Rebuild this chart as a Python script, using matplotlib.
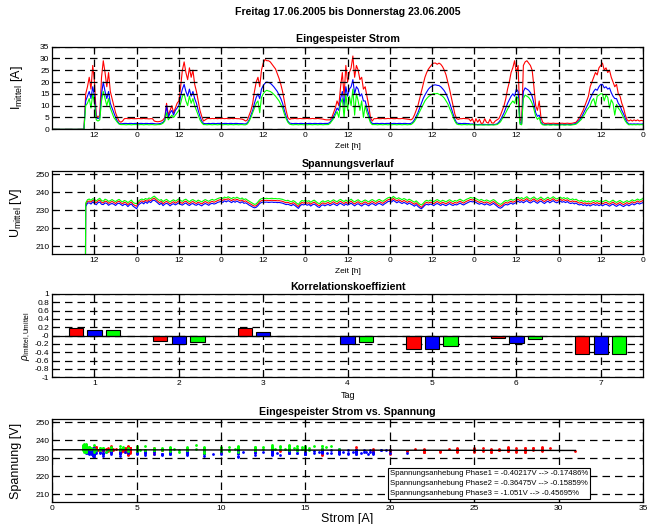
import numpy as np
import matplotlib
matplotlib.use("Agg")
import matplotlib.pyplot as plt

plt.rcParams['font.family'] = ['Liberation Sans', 'DejaVu Sans']
plt.rcParams['mathtext.fontset'] = 'custom'
plt.rcParams['mathtext.rm'] = 'Liberation Sans'
plt.rcParams['mathtext.it'] = 'Liberation Sans:italic'

# Messzeit in Stunden ab Freitag 0 Uhr (30-min Mittelwerte)
zeit = np.arange(0, 168.5, 0.5)

# Strom Phase 1 (rot), 2 (blau), 3 (gruen) in A
strom_L1 = [
    0, 0, 0, 0, 0, 0, 0, 0, 0, 0, 0, 0, 0, 0, 0, 0, 0, 0, 0,
    15, 18, 22, 17, 27, 20, 6, 5, 6, 22, 29, 24, 18, 24, 16, 13, 10, 7, 5, 3.5, 3, 3.5, 4.5, 4.6, 4.5, 4.5, 4.6, 4.5, 4.5,
    4.5, 4.6, 4.5, 4.5, 4.6, 4.5, 4.5, 4.4, 4.5, 4.5, 3.5, 3.3, 3.2, 3.3, 3.5, 4, 5,
    11, 6, 8, 10, 7, 9, 11, 12, 18, 25, 28.5, 24, 21, 26, 22, 25, 19, 16, 12, 8, 5.5, 3.5, 4, 4.5,
    4.6, 4.5, 4.6, 4.5, 4.6, 4.5, 4.6,
    4.5, 4.6, 4.5, 4.6, 4.5, 4.5, 4.6, 4.5, 4.6, 4.5, 4.5, 4.4, 4.3, 4.0,
    3.5, 4, 6, 8, 11, 16, 20, 22, 18, 25, 28, 29.5, 29, 29, 28.5, 27.5, 26.5, 25.5, 23.5, 21.5, 19, 16, 12, 8, 5, 4.2,
    4.5, 4.5, 4.6, 4.5, 4.5, 4.6, 4.5, 4.5,
    4.5, 4.6, 4.5, 4.5, 4.6, 4.5, 4.5, 4.6, 4.5, 4.4, 4.3, 4.1, 4.0, 4.0,
    4, 5, 7, 9, 12, 10, 18, 24, 14, 27, 20, 24, 26, 31, 22, 27, 25, 21, 22, 17, 18, 14, 10, 5, 3.5, 4.5,
    4.5, 4.6, 4.5, 4.5, 4.6, 4.5, 4.5, 4.6,
    4.5, 4.6, 4.5, 4.5, 4.6, 4.5, 4.5, 4.6, 4.5, 4.4, 4.3, 4.2,
    4, 4.5, 6, 8, 10, 13, 16, 19, 22, 24, 25.5, 26.5, 27.5, 28, 28, 27.5, 28, 27.5, 26.5, 25, 23, 20, 17, 13.5, 10, 6.5, 4.5, 4.2,
    4.5, 4.5, 4.6, 4.5, 4.5, 4.4, 3.5, 4.5,
    2.5, 4.5, 3, 4.2, 2.5, 2.6, 4.5, 3, 2.6, 4.3, 2.7, 2.6, 3.5, 4,
    4.5, 6, 8, 10, 13, 17, 20, 24, 26, 29, 24, 27, 5, 2.5, 27, 28.5, 29, 28, 27, 25, 18, 10, 8, 12, 5, 3,
    2.5, 2.5, 2.6, 2.5, 2.5, 2.6, 2.5, 2.5,
    2.5, 2.5, 2.6, 2.5, 2.5, 2.6, 2.5, 2.5, 2.6, 2.8,
    3, 4, 5, 6.5, 8, 10, 12, 14, 18, 20, 22, 24, 23, 26, 27, 28, 25, 26, 24, 25, 22, 20, 18, 19, 15, 14, 11, 9, 6, 4,
    3.5, 4, 3.5, 4, 3.6, 4, 3.5, 3.8, 3.6]
strom_L2 = [
    0, 0, 0, 0, 0, 0, 0, 0, 0, 0, 0, 0, 0, 0, 0, 0, 0, 0, 0,
    12, 14, 16, 13, 18, 14, 5, 4.5, 5, 15, 20, 16, 13, 16, 11, 9, 7, 5, 3.5, 2.5, 2.3, 2.4, 2.5, 2.5, 2.4, 2.5, 2.5, 2.4, 2.5,
    2.5, 2.4, 2.5, 2.5, 2.4, 2.5, 2.5, 2.4, 2.5, 2.5, 2.4, 2.3, 2.3, 2.4, 2.6, 3, 4,
    10, 5, 7, 8, 6, 8, 9, 10, 14, 17, 19, 16, 14, 17, 14, 16, 13, 11, 8, 5.5, 3.5, 2.5, 2.4, 2.4,
    2.5, 2.4, 2.5, 2.5, 2.4, 2.5, 2.5,
    2.5, 2.4, 2.5, 2.5, 2.4, 2.5, 2.5, 2.4, 2.5, 2.5, 2.4, 2.4, 2.4, 2.3,
    2.3, 2.8, 4, 6, 8, 11, 13.5, 15, 13, 17, 18.5, 19.5, 20, 19.8, 19.5, 18.8, 18, 17, 16, 14.5, 13, 11, 8, 5.5, 3.5, 2.6,
    2.5, 2.4, 2.5, 2.5, 2.4, 2.5, 2.5, 2.4,
    2.5, 2.4, 2.5, 2.5, 2.4, 2.5, 2.5, 2.4, 2.5, 2.5, 2.4, 2.5, 2.5, 2.5,
    3, 4, 5.5, 7, 9, 8, 13, 16, 10, 18, 14, 17, 18, 21, 15, 18, 17, 14, 15, 12, 12, 9, 6.5, 3.5, 2.5, 2.4,
    2.5, 2.5, 2.4, 2.5, 2.5, 2.4, 2.5, 2.5,
    2.5, 2.4, 2.5, 2.5, 2.4, 2.5, 2.5, 2.4, 2.5, 2.5, 2.4, 2.4,
    2.5, 3, 4, 5.5, 7, 9, 11, 13, 14.5, 15.8, 17, 17.8, 18.3, 18.7, 18.8, 18.6, 18.5, 18, 17.2, 16.3, 15, 13.3, 11.3, 9, 6.5, 4.3, 2.8, 2.5,
    2.5, 2.4, 2.5, 2.5, 2.4, 2.4, 2.2, 2.3,
    2.0, 2.1, 2.0, 2.1, 2.0, 2.0, 2.1, 2.0, 2.0, 2.1, 2.0, 2.0, 2.1, 2.3,
    3, 4, 5.5, 7, 9, 11, 12.5, 14, 15, 14, 17, 16, 3, 2.2, 16, 17.5, 17, 16.5, 15.5, 14, 11, 7, 5.5, 6, 3, 2.2,
    2.0, 2.0, 2.1, 2.0, 2.0, 2.1, 2.0, 2.0,
    2.0, 2.0, 2.1, 2.0, 2.0, 2.1, 2.0, 2.0, 2.1, 2.3,
    2.5, 3.2, 4, 5, 6.5, 8, 9.5, 11, 13, 14.5, 16, 17, 16.5, 18, 19, 19, 17.5, 18, 17, 17.5, 15.5, 14, 13, 13, 11, 10, 8, 6.5, 4.5, 3,
    2.2, 2.3, 2.2, 2.3, 2.2, 2.3, 2.2, 2.2, 2.3]
strom_L3 = [
    0, 0, 0, 0, 0, 0, 0, 0, 0, 0, 0, 0, 0, 0, 0, 0, 0, 0, 0,
    10, 11, 13, 9, 15, 11, 4, 3.5, 4, 12, 16, 13, 10, 13, 9, 7, 5, 4, 3, 2.2, 2.0, 2.0, 2.0, 1.9, 2.0, 2.0, 1.9, 2.0, 2.0,
    2.0, 1.9, 2.0, 2.0, 1.9, 2.0, 2.0, 1.9, 2.0, 2.0, 1.9, 1.9, 2.0, 2.0, 2.2, 2.6, 3.5,
    7, 4, 5, 6, 5, 6, 7, 8, 11, 14, 15, 12, 10, 14, 11, 13, 10, 8, 6, 4, 2.8, 2.0, 2.0, 1.9,
    2.0, 2.0, 1.9, 2.0, 2.0, 1.9, 2.0,
    2.0, 1.9, 2.0, 2.0, 1.9, 2.0, 2.0, 1.9, 2.0, 2.0, 1.9, 2.0, 2.0, 1.9,
    1.9, 2.3, 3.5, 5, 7, 9, 11, 12, 7, 13.5, 15, 16, 16.5, 16.2, 16, 15.5, 14.8, 14, 13, 12, 10.5, 9, 6.5, 4.5, 3, 2.2,
    2.0, 1.9, 2.0, 2.0, 1.9, 2.0, 2.0, 1.9,
    2.0, 1.9, 2.0, 2.0, 1.9, 2.0, 2.0, 1.9, 2.0, 2.0, 1.9, 2.0, 2.0, 2.0,
    2.5, 3.5, 4.5, 6, 7.5, 5, 11, 13, 5, 15, 8, 14, 10, 17, 6, 15, 12, 8, 12, 5, 10, 7, 5, 2.8, 2.0, 2.0,
    2.0, 1.9, 2.0, 2.0, 1.9, 2.0, 2.0, 1.9,
    2.0, 1.9, 2.0, 2.0, 1.9, 2.0, 2.0, 1.9, 2.0, 2.0, 1.9, 2.0,
    2.0, 2.5, 3.3, 4.5, 6, 7.5, 9, 10.5, 12, 13, 13.8, 14.3, 14.8, 15.2, 15, 15.2, 14.8, 14.5, 14, 13.2, 12, 10.8, 9, 7.2, 5.2, 3.5, 2.3, 2.0,
    2.0, 1.9, 2.0, 2.0, 1.9, 2.0, 1.9, 2.0,
    1.8, 1.9, 1.8, 1.8, 1.9, 1.8, 1.8, 1.9, 1.8, 1.8, 1.9, 1.8, 1.9, 2.0,
    2.5, 3.2, 4.5, 5.5, 7, 8.5, 10, 11, 12, 11, 14, 13, 2.2, 1.9, 13, 14.5, 14, 13.5, 12.5, 11, 8.5, 5.5, 4.2, 5, 2.5, 1.9,
    1.8, 1.8, 1.9, 1.8, 1.8, 1.9, 1.8, 1.8,
    1.8, 1.8, 1.9, 1.8, 1.8, 1.9, 1.8, 1.8, 1.9, 2.0,
    2.2, 2.8, 3.5, 4.2, 5.5, 6.5, 8, 9, 10, 12, 13, 10, 14, 14.5, 15, 15, 12, 14.5, 13.5, 9, 12.5, 11, 6, 10.5, 9, 8, 6.5, 5, 3.5, 2.5,
    1.9, 2.0, 1.9, 2.0, 1.9, 2.0, 1.9, 2.0, 1.9]

# Spannung Phase 1-3 in V
spannung_L1 = [
    0, 0, 0, 0, 0, 0, 0, 0, 0, 0, 0, 0, 0, 0, 0, 0, 0, 0, 0,
    233.0, 234.8, 235.1, 234.5, 235.5, 234.8, 234.2, 235.1, 235.6, 234.4, 234.0, 235.0, 234.8, 233.8, 234.4,
    234.8, 234.3, 233.7, 234.6, 235.0, 234.1, 233.6, 234.4, 234.0, 233.1, 233.9, 234.5, 233.2, 232.6,
    232.2, 234.0, 234.8, 235.2, 234.6, 235.5, 234.9, 235.8, 235.3, 236.2, 236.7, 235.8, 235.0, 234.2, 234.9, 233.6,
    234.4, 234.9, 234.2, 233.5, 234.2, 234.7, 233.9, 234.5, 235.2, 234.3, 233.8, 234.6, 235.0, 234.2, 233.6, 234.4,
    234.8, 234.1, 233.7, 234.5, 234.0, 233.5, 234.2, 234.8, 234.3, 233.8, 234.5, 234.9, 234.4, 234.8, 235.3, 235.7,
    235.9, 235.4, 236.2, 235.7, 236.4, 235.8, 235.3, 236.0, 235.5, 236.1, 235.6, 235.1, 235.7, 234.8, 235.2, 234.5,
    233.9, 233.3, 232.7, 232.2, 232.5, 233.5, 234.7, 235.3, 235.5, 235.4, 235.5, 235.3, 235.4, 235.5, 235.3, 235.4,
    235.2, 235.3, 235.1, 234.9, 234.5, 234.1, 234.4, 233.9, 233.5, 234.2, 233.7, 232.8, 232.0, 233.4, 234.3, 233.9,
    234.4, 233.8, 234.2, 233.3, 234.0, 234.5, 233.7, 232.9, 232.5, 233.6, 234.1, 233.4, 233.9, 234.3, 233.5, 234.1,
    234.7, 234.0, 233.6, 234.4, 234.9, 234.2, 233.7, 234.5, 233.8, 234.3, 235.0, 234.1, 233.5, 234.2, 234.7, 233.9,
    233.4, 234.1, 234.6, 234.0, 233.5, 234.3, 234.8, 234.2, 233.7, 234.4, 234.9, 234.3, 233.8, 234.5, 235.2, 235.8,
    236.1, 235.5, 236.6, 235.8, 235.2, 235.8, 235.3, 234.7, 235.4, 234.9, 234.3, 235.0, 234.5, 233.9, 233.3, 234.1,
    233.2, 232.3, 231.5, 232.7, 233.8, 234.4, 233.9, 234.5, 234.1, 233.6, 234.3, 234.8, 234.2, 233.7, 234.4, 234.0,
    233.5, 234.2, 234.7, 234.1, 233.6, 234.3, 233.9, 234.5, 235.0, 234.4, 233.9, 234.6, 235.1, 235.5, 236.0, 235.6,
    235.9, 235.3, 234.8, 234.3, 234.9, 234.4, 234.0, 234.6, 234.2, 233.7, 234.3, 234.8, 234.1, 233.2, 232.5, 232.1,
    232.8, 233.7, 234.3, 233.9, 234.5, 235.0, 234.4, 234.8, 235.4, 236.1, 235.3, 235.9, 235.2, 235.8, 236.4, 235.5,
    235.0, 235.7, 236.3, 235.4, 234.9, 235.6, 236.2, 235.3, 234.8, 235.5, 236.1, 235.2, 235.7, 236.4, 235.6, 235.1,
    235.7, 236.2, 235.4, 235.9, 235.3, 235.8, 235.1, 234.7, 235.2, 234.6, 235.0, 234.3, 233.9, 234.4, 233.7, 234.1,
    233.5, 234.0, 233.4, 233.9, 234.3, 233.7, 234.2, 233.6, 234.1, 233.5, 234.0, 234.4, 233.8, 233.3, 233.9, 234.5,
    233.7, 233.2, 233.8, 234.3, 233.6, 233.1, 233.7, 234.2, 233.5, 234.1, 234.7, 234.0, 234.5, 235.1, 234.4, 234.9,
    235.3]
spannung_L2 = [
    0, 0, 0, 0, 0, 0, 0, 0, 0, 0, 0, 0, 0, 0, 0, 0, 0, 0, 0,
    232.0, 233.9, 234.1, 233.4, 234.6, 233.8, 233.0, 234.2, 234.5, 233.3, 233.1, 234.0, 233.8, 232.7, 233.4,
    233.7, 233.3, 232.6, 233.6, 233.9, 233.2, 232.5, 233.3, 233.1, 232.0, 233.0, 233.4, 232.2, 231.5,
    230.8, 232.9, 233.7, 234.3, 233.5, 234.6, 233.8, 234.9, 234.2, 235.3, 235.6, 234.8, 234.0, 233.1, 233.9, 232.5,
    233.4, 233.8, 233.3, 232.4, 233.2, 233.6, 232.9, 233.5, 234.1, 233.2, 232.8, 233.5, 234.0, 233.1, 232.6, 233.4,
    233.7, 233.0, 232.7, 233.5, 232.9, 232.4, 233.2, 233.7, 233.3, 232.7, 233.5, 233.8, 233.4, 233.7, 234.3, 234.6,
    234.9, 234.3, 235.2, 234.6, 235.3, 234.8, 234.2, 235.0, 234.4, 235.1, 234.5, 234.0, 234.7, 233.8, 234.1, 233.5,
    232.8, 232.3, 231.7, 231.3, 231.6, 232.5, 233.7, 234.3, 234.5, 234.4, 234.5, 234.3, 234.4, 234.5, 234.3, 234.4,
    234.2, 234.3, 234.1, 233.9, 233.5, 233.1, 233.3, 232.9, 232.5, 233.2, 232.6, 231.8, 231.0, 232.4, 233.2, 232.9,
    233.4, 232.7, 233.2, 232.3, 233.0, 233.4, 232.7, 231.9, 231.5, 232.6, 233.0, 232.4, 232.9, 233.2, 232.5, 233.1,
    233.6, 233.0, 232.5, 233.4, 233.8, 233.2, 232.6, 233.5, 232.8, 233.3, 233.9, 233.1, 232.4, 233.2, 233.6, 232.9,
    232.3, 233.1, 233.5, 233.0, 232.4, 233.3, 233.7, 233.2, 232.6, 233.4, 233.8, 233.3, 232.7, 233.5, 234.1, 234.8,
    235.0, 234.5, 235.5, 234.8, 234.1, 234.8, 234.2, 233.7, 234.3, 233.9, 233.2, 234.0, 233.4, 232.9, 232.2, 233.1,
    232.1, 231.3, 230.8, 231.7, 232.8, 233.3, 232.9, 233.4, 233.1, 232.5, 233.3, 233.7, 233.2, 232.6, 233.4, 232.9,
    232.5, 233.1, 233.7, 233.0, 232.6, 233.2, 232.9, 233.4, 234.0, 233.3, 232.9, 233.5, 234.0, 234.5, 234.9, 234.6,
    234.8, 234.3, 233.7, 233.3, 233.8, 233.4, 232.9, 233.6, 233.1, 232.7, 233.2, 233.8, 233.0, 232.2, 231.4, 231.1,
    231.7, 232.7, 233.2, 232.9, 233.4, 234.0, 233.3, 233.8, 234.3, 235.0, 234.3, 234.8, 234.1, 234.8, 235.3, 234.4,
    234.0, 234.6, 235.2, 234.4, 233.8, 234.6, 235.1, 234.3, 233.7, 234.5, 235.0, 234.1, 234.7, 235.3, 234.5, 234.1,
    234.6, 235.1, 234.4, 234.8, 234.2, 234.8, 234.0, 233.7, 234.1, 233.5, 234.0, 233.2, 232.9, 233.3, 232.6, 233.1,
    232.4, 233.0, 232.3, 232.9, 233.2, 232.7, 233.1, 232.5, 233.1, 232.4, 233.0, 233.3, 232.8, 232.2, 232.9, 233.4,
    232.6, 232.1, 232.8, 233.2, 232.5, 232.0, 232.7, 233.1, 232.4, 233.0, 233.6, 232.9, 233.5, 234.0, 233.4, 233.8,
    234.2]
spannung_L3 = [
    0, 0, 0, 0, 0, 0, 0, 0, 0, 0, 0, 0, 0, 0, 0, 0, 0, 0, 0,
    234.0, 235.8, 236.2, 235.5, 236.4, 235.9, 235.2, 236.0, 236.6, 235.4, 235.0, 236.1, 235.7, 234.9, 235.3,
    235.9, 235.2, 234.8, 235.5, 236.0, 235.1, 234.6, 235.4, 235.0, 234.2, 234.9, 235.6, 234.3, 233.8,
    233.6, 235.0, 235.8, 236.2, 235.7, 236.5, 236.0, 236.8, 236.4, 237.2, 237.8, 236.9, 236.1, 235.4, 235.9, 234.8,
    235.5, 236.0, 235.2, 234.6, 235.3, 235.8, 235.0, 235.6, 236.3, 235.4, 234.9, 235.7, 236.1, 235.3, 234.7, 235.5,
    235.9, 235.2, 234.8, 235.6, 235.1, 234.6, 235.3, 235.9, 235.4, 234.9, 235.6, 236.0, 235.5, 235.9, 236.4, 236.8,
    237.0, 236.5, 237.3, 236.8, 237.5, 236.9, 236.4, 237.1, 236.6, 237.2, 236.7, 236.2, 236.8, 235.9, 236.3, 235.6,
    235.0, 234.4, 233.8, 233.2, 233.5, 234.6, 235.8, 236.4, 236.6, 236.5, 236.6, 236.4, 236.5, 236.6, 236.4, 236.5,
    236.3, 236.4, 236.2, 236.0, 235.6, 235.2, 235.5, 235.0, 234.6, 235.3, 234.8, 233.9, 233.2, 234.5, 235.4, 235.0,
    235.5, 234.9, 235.3, 234.4, 235.1, 235.6, 234.8, 234.0, 233.6, 234.7, 235.2, 234.5, 235.0, 235.4, 234.6, 235.2,
    235.8, 235.1, 234.7, 235.5, 236.0, 235.3, 234.8, 235.6, 234.9, 235.4, 236.1, 235.2, 234.6, 235.3, 235.8, 235.0,
    234.5, 235.2, 235.7, 235.1, 234.6, 235.4, 235.9, 235.3, 234.8, 235.5, 236.0, 235.4, 234.9, 235.6, 236.3, 236.9,
    237.2, 236.6, 237.7, 236.9, 236.3, 236.9, 236.4, 235.8, 236.5, 236.0, 235.4, 236.1, 235.6, 235.0, 234.4, 235.2,
    234.3, 233.4, 232.9, 233.8, 234.9, 235.5, 235.0, 235.6, 235.2, 234.7, 235.4, 235.9, 235.3, 234.8, 235.5, 235.1,
    234.6, 235.3, 235.8, 235.2, 234.7, 235.4, 235.0, 235.6, 236.1, 235.5, 235.0, 235.7, 236.2, 236.6, 237.1, 236.7,
    237.0, 236.4, 235.9, 235.4, 236.0, 235.5, 235.1, 235.7, 235.3, 234.8, 235.4, 235.9, 235.2, 234.3, 233.6, 233.2,
    233.9, 234.8, 235.4, 235.0, 235.6, 236.1, 235.5, 235.9, 236.5, 237.2, 236.4, 237.0, 236.3, 236.9, 237.5, 236.6,
    236.1, 236.8, 237.4, 236.5, 236.0, 236.7, 237.3, 236.4, 235.9, 236.6, 237.2, 236.3, 236.8, 237.5, 236.7, 236.2,
    236.8, 237.3, 236.5, 237.0, 236.4, 236.9, 236.2, 235.8, 236.3, 235.7, 236.1, 235.4, 235.0, 235.5, 234.8, 235.2,
    234.6, 235.1, 234.5, 235.0, 235.4, 234.8, 235.3, 234.7, 235.2, 234.6, 235.1, 235.5, 234.9, 234.4, 235.0, 235.6,
    234.8, 234.3, 234.9, 235.4, 234.7, 234.2, 234.8, 235.3, 234.6, 235.2, 235.8, 235.1, 235.6, 236.2, 235.5, 236.0,
    236.4]

# Korrelationskoeffizient je Tag
tage = [1, 2, 3, 4, 5, 6, 7]
korr_L1 = [0.176, -0.136, 0.184, -0.02, -0.31, -0.056, -0.43]
korr_L2 = [0.136, -0.20, 0.088, -0.19, -0.33, -0.176, -0.43]
korr_L3 = [0.14, -0.16, -0.01, -0.16, -0.26, -0.088, -0.45]

# Ausgleichsgerade Strom vs. Spannung
fit_strom = [0, 31]
fit_spannung = [234.7, 234.3]

info = ["Spannungsanhebung Phase1 = -0.40217V --> -0.17486%",
        "Spannungsanhebung Phase2 = -0.36475V --> -0.15859%",
        "Spannungsanhebung Phase3 = -1.051V --> -0.45695%"]

zeit_ticks = np.arange(12, 169, 12)
zeit_labels = ["%d" % (t % 24) for t in zeit_ticks]
farben = ['#ff0000', '#0000ff', '#00ff00']


def style(ax):
    ax.grid(True, color='k', linestyle=(0, (6, 4)), linewidth=0.9)
    ax.set_axisbelow(False)
    ax.tick_params(which='both', direction='in', top=True, right=True,
                   length=3, width=0.8, labelsize=6, pad=2)
    for s in ax.spines.values():
        s.set_linewidth(0.9)


fig = plt.figure(figsize=(6.49, 5.24), dpi=100)

L, W, H = 0.0806, 0.910, 0.158
fig.text(L + W / 2, 0.977, 'Freitag 17.06.2005 bis Donnerstag 23.06.2005',
         ha='center', va='center', fontsize=7.6, fontweight='bold')

ax1 = fig.add_axes([L, 0.7532, W, H])
for y, c in zip([strom_L1, strom_L2, strom_L3], farben):
    ax1.plot(zeit, y, color=c, linewidth=0.8)
ax1.set_xlim(0, 168)
ax1.set_ylim(0, 35)
ax1.set_yticks(np.arange(0, 36, 5))
ax1.set_xticks(zeit_ticks)
ax1.set_xticklabels(zeit_labels)
style(ax1)
ax1.set_title('Eingespeister Strom', fontsize=7.7, fontweight='bold', pad=3)
ax1.set_xlabel('Zeit [h]', fontsize=6, labelpad=3)
ax1.set_ylabel(r'I$_{\mathrm{mittel}}$ [A]', fontsize=9)
ax1.yaxis.set_label_coords(-0.046, 0.5)

ax2 = fig.add_axes([L, 0.5153, W, H])
for y, c in zip([spannung_L1, spannung_L2, spannung_L3], farben):
    ax2.plot(zeit, y, color=c, linewidth=0.8)
ax2.set_xlim(0, 168)
ax2.set_ylim(205.6, 251.7)
ax2.set_yticks(np.arange(210, 251, 10))
ax2.set_xticks(zeit_ticks)
ax2.set_xticklabels(zeit_labels)
style(ax2)
ax2.set_title('Spannungsverlauf', fontsize=7.7, fontweight='bold', pad=3)
ax2.set_xlabel('Zeit [h]', fontsize=6, labelpad=3)
ax2.set_ylabel(r'U$_{\mathrm{mittel}}$ [V]', fontsize=9)
ax2.yaxis.set_label_coords(-0.048, 0.5)

ax3 = fig.add_axes([L, 0.280, W, 0.159])
b = 0.17
for k, (y, c) in enumerate(zip([korr_L1, korr_L2, korr_L3], farben)):
    ax3.bar(np.array(tage) + (k - 1) * 0.22, y, width=b, color=c,
            edgecolor='k', linewidth=0.8, zorder=3)
ax3.axhline(0, color='k', linewidth=0.9, zorder=4)
ax3.set_xlim(0.5, 7.5)
ax3.set_ylim(-1, 1)
ax3.set_yticks(np.arange(-1, 1.01, 0.2))
ax3.set_yticklabels(["%g" % round(v, 1) for v in np.arange(-1, 1.01, 0.2)])
ax3.set_xticks(tage)
style(ax3)
ax3.set_title('Korrelationskoeffizient', fontsize=7.7, fontweight='bold', pad=3)
ax3.set_xlabel('Tag', fontsize=6.5, labelpad=3)
ax3.set_ylabel(r'$\rho_{\mathrm{Imittel,Umittel}}$', fontsize=7)
ax3.yaxis.set_label_coords(-0.032, 0.5)

ax4 = fig.add_axes([L, 0.042, W, H])
for x, y, c in zip([strom_L1, strom_L2, strom_L3],
                   [spannung_L1, spannung_L2, spannung_L3], farben):
    ax4.plot(x, y, '.', color=c, markersize=2)
ax4.plot(fit_strom, fit_spannung, color='k', linewidth=1.0)
ax4.set_xlim(0, 35)
ax4.set_ylim(205.6, 251.7)
ax4.set_xticks(np.arange(0, 36, 5))
ax4.set_yticks(np.arange(210, 251, 10))
style(ax4)
ax4.set_title('Eingespeister Strom vs. Spannung', fontsize=7.7, fontweight='bold', pad=3)
ax4.set_xlabel('Strom [A]', fontsize=9, labelpad=1)
ax4.set_ylabel('Spannung [V]', fontsize=9)
ax4.yaxis.set_label_coords(-0.051, 0.5)
ax4.text(0.572, 0.055, "\n".join(info), transform=ax4.transAxes, fontsize=5.6,
         ha='left', va='bottom', linespacing=1.62, zorder=5,
         bbox=dict(boxstyle='square,pad=0.25', facecolor='white', edgecolor='k', linewidth=0.8))

plt.savefig('out.png', dpi=100)
